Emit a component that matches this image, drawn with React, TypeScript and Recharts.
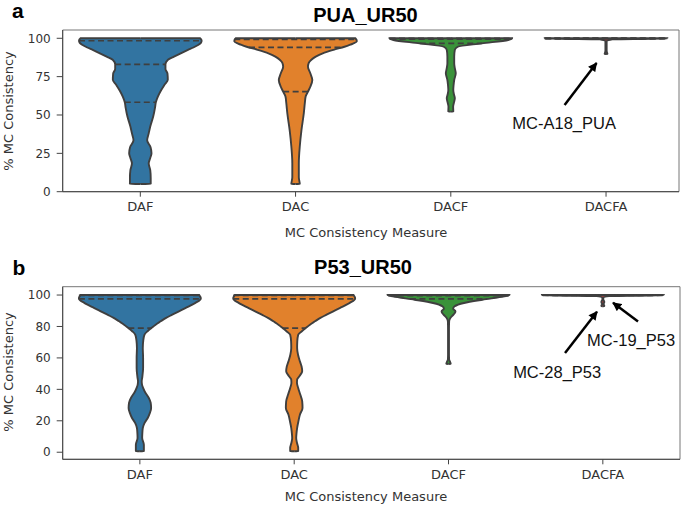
import { Area, ComposedChart, ReferenceArea, ReferenceDot, ReferenceLine, XAxis, YAxis } from "recharts";

const CATEGORIES = ["DAF", "DAC", "DACF", "DACFA"];
const FILLS = ["#3274a1", "#e1812c", "#3a923a", "#c03d3e"];
const EDGE = "#3f3f3f";

// PUA_UR50: violin half-widths (x units) read at each % level
const PUA_DAF_Y = [5, 9, 14, 18.5, 22, 25, 29, 33.5, 38, 42.5, 49, 55, 58.3, 62, 66, 70, 73, 77, 80, 83, 86, 88, 90, 92.4, 94, 95.6, 97, 98.4, 100];
const PUA_DAF_W = [0.067, 0.067, 0.064, 0.054, 0.064, 0.072, 0.066, 0.044, 0.054, 0.064, 0.083, 0.095, 0.1, 0.113, 0.133, 0.158, 0.177, 0.175, 0.162, 0.162, 0.178, 0.217, 0.257, 0.307, 0.342, 0.372, 0.39, 0.395, 0.385];
const PUA_DAC_Y = [5, 9.4, 18.5, 29.3, 40.2, 51, 58, 62, 65.2, 68.4, 72.8, 77.2, 81.5, 84, 86, 88, 90.2, 92.5, 94.5, 96.5, 98, 100];
const PUA_DAC_W = [0.027, 0.021, 0.021, 0.027, 0.038, 0.053, 0.06, 0.065, 0.08, 0.095, 0.108, 0.095, 0.08, 0.085, 0.102, 0.13, 0.175, 0.245, 0.315, 0.37, 0.395, 0.385];
const PUA_DACF_Y = [52.2, 55.4, 58, 60.9, 63.5, 66.3, 69.5, 72.8, 77.2, 80.5, 83.7, 88, 92.4, 94.5, 96.7, 98.9, 100];
const PUA_DACF_W = [0.016, 0.015, 0.02, 0.026, 0.02, 0.016, 0.018, 0.022, 0.032, 0.026, 0.022, 0.022, 0.026, 0.045, 0.2, 0.37, 0.395];
const PUA_DACFA_Y = [89.8, 90.5, 92, 95, 98, 99.3, 99.7, 100];
const PUA_DACFA_W = [0.009, 0.007, 0.004, 0.004, 0.004, 0.04, 0.3, 0.395];

const PUA_Q = [[58.3, 83, 98.4], [65.2, 94.1, 99.3], [96.7, 99.5, 100], [99.8, 100, 100]];
const PUA_QW = [[0.1, 0.162, 0.395], [0.08, 0.3, 0.395], [0.2, 0.39, 0.395], [0.39, 0.395, 0.395]];

// P53_UR50
const P53_DAF_Y = [0.6, 4.8, 9.1, 12, 15.4, 18.5, 21.8, 25, 28.2, 31.5, 34.5, 38, 40.9, 43, 45.1, 48, 53.6, 60, 66.3, 71, 74.8, 77, 79, 81, 83.3, 85.5, 87.5, 89.5, 91.7, 95, 97.7, 100];
const P53_DAF_W = [0.026, 0.026, 0.015, 0.016, 0.019, 0.03, 0.051, 0.065, 0.073, 0.07, 0.058, 0.035, 0.021, 0.014, 0.012, 0.016, 0.021, 0.021, 0.019, 0.022, 0.03, 0.05, 0.075, 0.1, 0.135, 0.17, 0.21, 0.25, 0.295, 0.36, 0.395, 0.385];
const P53_DAC_Y = [0.6, 2.7, 6, 9.1, 12, 15.4, 19.5, 23.9, 28.2, 32.4, 36.5, 40.9, 44, 46.2, 48.5, 51.5, 54.5, 57.8, 62, 66.3, 70.5, 74.8, 77, 79, 81, 83.3, 85.5, 87.5, 89.5, 91.7, 95, 97.7, 100];
const P53_DAC_W = [0.026, 0.026, 0.018, 0.013, 0.015, 0.019, 0.027, 0.037, 0.054, 0.052, 0.04, 0.026, 0.018, 0.019, 0.035, 0.052, 0.048, 0.037, 0.025, 0.019, 0.02, 0.026, 0.05, 0.075, 0.1, 0.135, 0.17, 0.21, 0.25, 0.295, 0.36, 0.395, 0.385];
const P53_DACF_Y = [56.1, 57.5, 59, 62, 70, 78, 83.2, 85.4, 87.5, 89.6, 91.3, 92.8, 94.9, 97, 99.1, 100];
const P53_DACF_W = [0.014, 0.01, 0.004, 0.003, 0.003, 0.003, 0.004, 0.012, 0.032, 0.045, 0.03, 0.04, 0.1, 0.22, 0.36, 0.395];
const P53_DACFA_Y = [92.8, 93.5, 94.3, 95.2, 96, 97, 98.2, 99.3, 99.7, 100];
const P53_DACFA_W = [0.009, 0.009, 0.003, 0.009, 0.009, 0.003, 0.003, 0.04, 0.3, 0.395];

const P53_Q = [[79, 97.6, 99.8], [79, 97.6, 99.8], [97.5, 99.6, 100], [99.8, 100, 100]];
const P53_QW = [[0.075, 0.395, 0.395], [0.075, 0.395, 0.395], [0.25, 0.39, 0.395], [0.39, 0.395, 0.395]];

// annotations: [x, %] of text, arrows [x0, %0, x1, %1] (head at x1)
const PUA_NOTES = ["MC-A18_PUA"];
const PUA_NOTE_POS = [[2.73, 44.8]];
const PUA_ARROWS = [[2.733, 56.5, 2.939, 83.9]];
const P53_NOTES = ["MC-19_P53", "MC-28_P53"];
const P53_NOTE_POS = [[3.183, 71.4], [2.704, 51.1]];
const P53_ARROWS = [[2.755, 63.1, 2.962, 89.4], [3.228, 83.1, 3.066, 95.1]];

const PUA_TICKS = [0, 25, 50, 75, 100];
const P53_TICKS = [0, 20, 40, 60, 80, 100];

function outline(center: number, ys: number[], ws: number[]) {
  const rows = ys.map((y, i) => ({ y, v: [center - ws[i], center + ws[i]] }));
  return [{ y: ys[0] - 0.02, v: [center, center] }, ...rows, { y: ys[ys.length - 1] + 0.02, v: [center, center] }];
}

interface PanelProps {
  id: string;
  shapes: [number[], number[]][];
  q: number[][];
  qw: number[][];
  domain: [number, number];
  ticks: number[];
  xMax: number;
  margin: { top: number; right: number; bottom: number; left: number };
  notes: string[];
  notePos: number[][];
  arrows: number[][];
}

function Panel({ id, shapes, q, qw, domain, ticks, xMax, margin, notes, notePos, arrows }: PanelProps) {
  const tickFont = { fill: "#333", fontSize: 13, fontFamily: "DejaVu Sans" };
  return (
    <ComposedChart layout="vertical" width={685} height={250} margin={margin}>
      <defs>
        <marker id={`head-${id}`} viewBox="0 0 10 10" refX="9" refY="5" markerUnits="userSpaceOnUse" markerWidth="10" markerHeight="9" orient="auto">
          <path d="M0,0 L10,5 L0,10 z" fill="#000" />
        </marker>
      </defs>
      <XAxis
        type="number"
        domain={[-0.5, xMax]}
        ticks={[0, 1, 2, 3]}
        tickFormatter={(i: number) => CATEGORIES[i]}
        allowDataOverflow
        height={44}
        tickSize={5}
        tickMargin={5}
        axisLine={{ stroke: "#444" }}
        tickLine={{ stroke: "#444" }}
        tick={tickFont}
      />
      <YAxis
        type="number"
        dataKey="y"
        domain={domain}
        ticks={ticks}
        reversed
        allowDataOverflow
        width={62.7}
        tickSize={6}
        tickMargin={6}
        axisLine={{ stroke: "#444" }}
        tickLine={{ stroke: "#444" }}
        tick={{ ...tickFont, fontSize: 12 }}
      />
      <ReferenceArea x1={-0.5} x2={xMax} y1={domain[0]} y2={domain[1]} fill="none" stroke="#777" strokeWidth={1} />
      {shapes.map(([ys, ws], i) => (
        <Area
          key={`v${i}`}
          data={outline(i, ys, ws)}
          dataKey="v"
          type="monotone"
          fill={FILLS[i]}
          fillOpacity={1}
          stroke={EDGE}
          strokeWidth={1.9}
          dot={false}
          activeDot={false}
          isAnimationActive={false}
        />
      ))}
      {q.flatMap((qs, i) =>
        qs.map((qv, k) => (
          <ReferenceLine
            key={`q${i}-${k}`}
            segment={[{ x: i - qw[i][k], y: qv }, { x: i + qw[i][k], y: qv }]}
            stroke={EDGE}
            strokeWidth={1.7}
            strokeDasharray="6 3.5"
          />
        ))
      )}
      {arrows.map((a, k) => (
        <ReferenceLine
          key={`a${k}`}
          segment={[{ x: a[0], y: a[1] }, { x: a[2], y: a[3] }]}
          shape={(p: any) => (
            <line x1={p.x1} y1={p.y1} x2={p.x2} y2={p.y2} stroke="#000" strokeWidth={2.5} markerEnd={`url(#head-${id})`} />
          )}
        />
      ))}
      {notes.map((t, k) => (
        <ReferenceDot
          key={`n${k}`}
          x={notePos[k][0]}
          y={notePos[k][1]}
          r={0}
          shape={(p: any) => (
            <text x={p.cx} y={p.cy} textAnchor="middle" dominantBaseline="central" fontFamily="Liberation Sans" fontSize={16.5} fill="#111">
              {t}
            </text>
          )}
        />
      ))}
    </ComposedChart>
  );
}

export default function App() {
  const label = { fontFamily: "DejaVu Sans", fontSize: 13, fill: "#333" };
  const bold = { fontFamily: "Liberation Sans", fontWeight: 700, fill: "#000" };
  return (
    <div style={{ position: "absolute", left: 0, top: 0, width: 685, height: 506, background: "#fff" }}>
      <div style={{ position: "absolute", left: 0, top: 0 }}>
        <Panel
          id="a"
          shapes={[[PUA_DAF_Y, PUA_DAF_W], [PUA_DAC_Y, PUA_DAC_W], [PUA_DACF_Y, PUA_DACF_W], [PUA_DACFA_Y, PUA_DACFA_W]]}
          q={PUA_Q}
          qw={PUA_QW}
          domain={[0, 105.4]}
          ticks={PUA_TICKS}
          xMax={3.47}
          margin={{ top: 30, right: 6, bottom: 14.3, left: 0 }}
          notes={PUA_NOTES}
          notePos={PUA_NOTE_POS}
          arrows={PUA_ARROWS}
        />
      </div>
      <div style={{ position: "absolute", left: 0, top: 256 }}>
        <Panel
          id="b"
          shapes={[[P53_DAF_Y, P53_DAF_W], [P53_DAC_Y, P53_DAC_W], [P53_DACF_Y, P53_DACF_W], [P53_DACFA_Y, P53_DACFA_W]]}
          q={P53_Q}
          qw={P53_QW}
          domain={[-4.5, 105.3]}
          ticks={P53_TICKS}
          xMax={3.5}
          margin={{ top: 30.7, right: 5, bottom: 2.7, left: 0 }}
          notes={P53_NOTES}
          notePos={P53_NOTE_POS}
          arrows={P53_ARROWS}
        />
      </div>
      <svg width={685} height={506} style={{ position: "absolute", left: 0, top: 0, pointerEvents: "none" }}>
        <text x={12} y={18} fontSize={21} {...bold}>a</text>
        <text x={365.5} y={22} fontSize={20} textAnchor="middle" {...bold}>PUA_UR50</text>
        <text x={12.5} y={275} fontSize={21} {...bold}>b</text>
        <text x={363} y={273.5} fontSize={20} textAnchor="middle" {...bold}>P53_UR50</text>
        <text x={366} y={236.5} textAnchor="middle" {...label}>MC Consistency Measure</text>
        <text x={366} y={500.5} textAnchor="middle" {...label}>MC Consistency Measure</text>
        <text x={8} y={111} transform="rotate(-90 8 111)" textAnchor="middle" dominantBaseline="central" {...label}>% MC Consistency</text>
        <text x={8} y={372} transform="rotate(-90 8 372)" textAnchor="middle" dominantBaseline="central" {...label}>% MC Consistency</text>
      </svg>
    </div>
  );
}
